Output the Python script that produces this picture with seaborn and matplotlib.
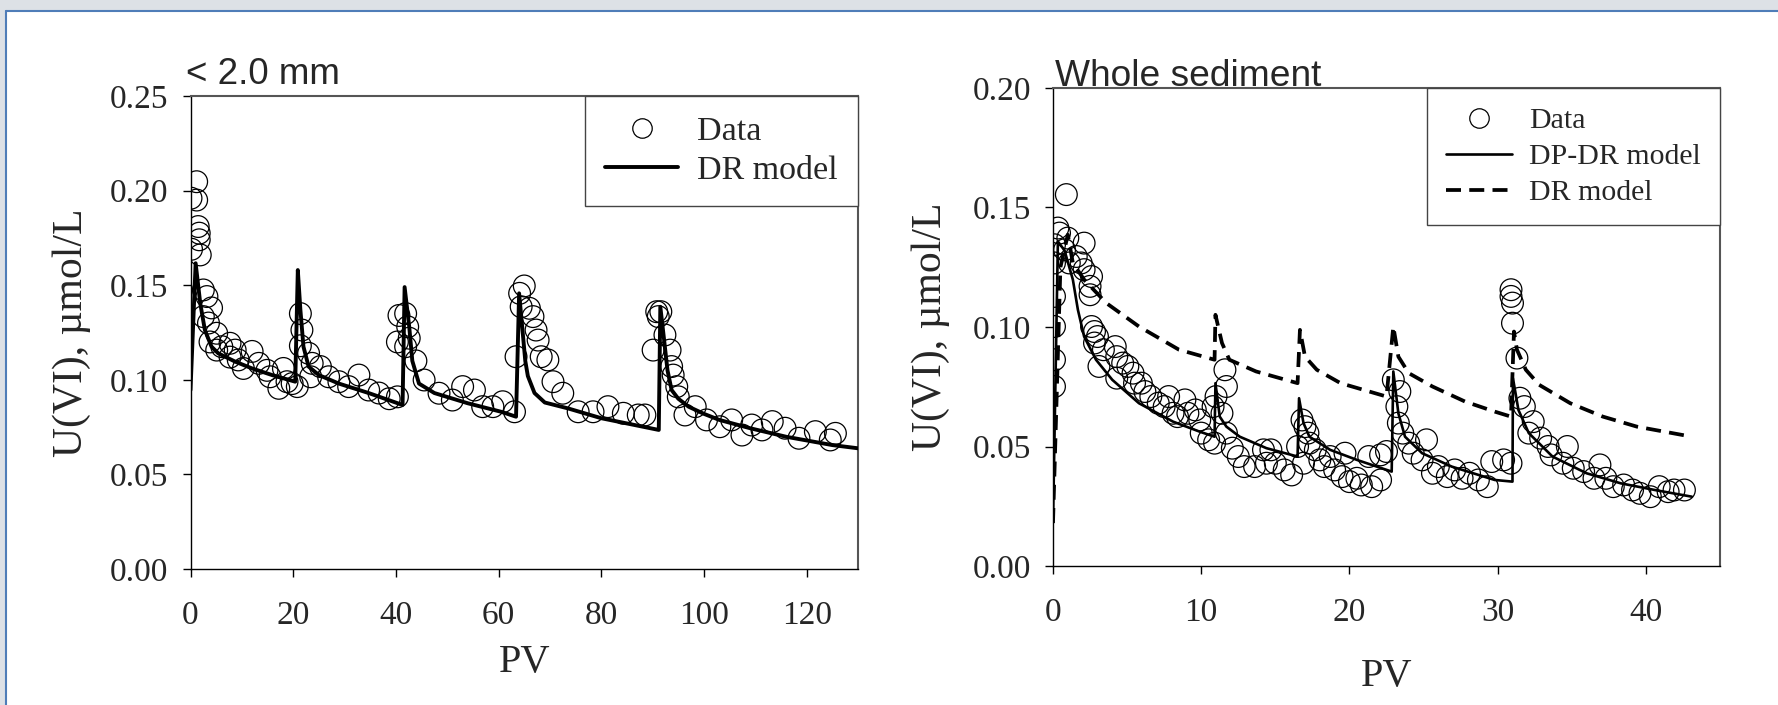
import numpy as np
import pandas as pd
import seaborn as sns
import matplotlib
matplotlib.use("Agg")
import matplotlib.pyplot as plt
from matplotlib.lines import Line2D
from matplotlib.patches import Rectangle
from matplotlib.ticker import FormatStrFormatter, MultipleLocator

# ---------------- data: left panel (< 2.0 mm) ----------------
left_data_pv = [0.1, 1.2, 1.2, 0.2, 1.5, 1.7, 1.7, 1.9, 2.5, 3.2, 4.1, 2.5, 3.5, 5.1, 3.8, 5.1,
                6.1, 7.7, 8.7, 7.7, 9.3, 12.0, 10.3, 13.3, 14.9, 15.5, 17.2, 18.1, 18.8, 19.8,
                20.8, 21.4, 21.7, 21.4, 23.0, 23.7, 23.4, 25.3, 26.9, 28.9, 30.8, 32.8, 34.7,
                36.7, 38.7, 40.3, 40.6, 40.3, 41.9, 42.3, 42.6, 41.9, 43.9, 45.5, 48.4, 51.0,
                53.0, 55.3, 56.9, 58.9, 60.8, 63.1, 63.4, 64.1, 64.4, 65.0, 66.0, 66.7, 67.3,
                67.7, 68.3, 69.6, 70.6, 72.5, 75.5, 78.4, 81.3, 84.3, 87.2, 88.5, 90.1, 90.8,
                91.6, 91.1, 92.4, 93.4, 93.7, 94.0, 94.7, 95.0, 96.3, 98.3, 100.5, 103.1,
                105.4, 107.4, 109.3, 111.3, 113.3, 115.8, 118.5, 121.7, 124.6, 125.6]
left_data_u = [0.196, 0.2047, 0.195, 0.169, 0.181, 0.1775, 0.174, 0.166, 0.1475, 0.144, 0.138,
               0.1334, 0.130, 0.1246, 0.120, 0.1157, 0.1175, 0.1193, 0.1157, 0.112, 0.1105,
               0.115, 0.106, 0.1087, 0.105, 0.1016, 0.0955, 0.106, 0.099, 0.098, 0.0964, 0.135,
               0.1263, 0.118, 0.114, 0.1087, 0.1016, 0.107, 0.1016, 0.099, 0.0964, 0.1025,
               0.0946, 0.093, 0.090, 0.091, 0.134, 0.120, 0.135, 0.128, 0.122, 0.1175, 0.110,
               0.0999, 0.0929, 0.0893, 0.0964, 0.0946, 0.0858, 0.0858, 0.0884, 0.0831, 0.1122,
               0.1457, 0.1386, 0.1496, 0.1378, 0.1334, 0.1263, 0.121, 0.1122, 0.1105, 0.099,
               0.0929, 0.0831, 0.0831, 0.0858, 0.0823, 0.0814, 0.0814, 0.1157, 0.136, 0.136,
               0.1334, 0.1237, 0.1157, 0.107, 0.1025, 0.0964, 0.091, 0.0814, 0.0858, 0.0788,
               0.0752, 0.0788, 0.0708, 0.0761, 0.0735, 0.0779, 0.0744, 0.0691, 0.0726, 0.0682,
               0.0717]

left_dr_pv = [0, 1.0, 1.9, 2.8, 4.1, 5.4, 8.7, 12, 15.9, 20.4, 20.9, 21.4, 22.0, 23.0, 25.0,
              28.9, 34.7, 41.3, 41.7, 42.6, 43.2, 44.5, 47.5, 54, 60.5, 63.4, 64.0, 64.6, 65.2,
              65.7, 67.0, 69.0, 73.5, 80, 86.5, 91.2, 91.5, 92.2, 92.9, 93.7, 95, 97, 100, 103,
              109, 116, 125, 130]
left_dr_u = [0.0946, 0.1616, 0.1404, 0.1263, 0.1175, 0.114, 0.1096, 0.106, 0.1025, 0.099,
             0.158, 0.137, 0.1175, 0.107, 0.1025, 0.098, 0.093, 0.0867, 0.149, 0.128, 0.110,
             0.098, 0.093, 0.0876, 0.0831, 0.0805, 0.1457, 0.128, 0.110, 0.102, 0.093, 0.088,
             0.0849, 0.0797, 0.0761, 0.0735, 0.1386, 0.122, 0.105, 0.0946, 0.090, 0.0858,
             0.082, 0.0788, 0.0744, 0.0699, 0.0655, 0.0638]

# ---------------- data: right panel (whole sediment) ----------------
right_data_pv = [0.9, 0.33, 0.44, 0.1, 0.1, 0.1, 0.1, 0.1, 0.1, 1.0, 2.1, 0.78, 1.1, 1.57, 1.9,
                 2.1, 2.6, 2.5, 2.5, 2.6, 2.8, 3.0, 2.8, 3.4, 3.1, 4.2, 4.3, 4.3, 4.7, 5.05, 5.4,
                 5.5, 5.96, 6.2, 6.6, 7.1, 7.5, 7.8, 8.1, 8.4, 8.9, 9.1, 9.6, 9.9, 10.0, 10.5,
                 10.9, 10.8, 11.0, 11.6, 11.7, 11.4, 11.7, 12.1, 12.5, 12.9, 13.6, 14.2, 14.4,
                 14.7, 15.0, 15.6, 16.1, 16.5, 16.8, 17.0, 17.2, 16.9, 17.3, 17.7, 18.0, 18.3,
                 18.7, 19.0, 19.5, 19.7, 20.0, 20.5, 20.8, 21.3, 21.5, 22.1, 22.1, 22.5, 22.96,
                 23.4, 23.2, 23.3, 23.6, 24.0, 24.3, 25.2, 24.9, 25.6, 26.0, 26.6, 27.1, 27.6,
                 28.1, 28.7, 29.3, 29.6, 30.4, 30.9, 30.9, 30.9, 31.0, 31.0, 31.3, 31.5, 31.8,
                 32.4, 32.1, 32.9, 33.4, 33.6, 34.7, 34.4, 35.1, 35.8, 36.9, 36.5, 37.3, 37.8,
                 38.5, 39.1, 39.6, 40.3, 40.9, 41.5, 41.9, 42.6]
right_data_u = [0.1554, 0.1414, 0.1393, 0.1344, 0.1268, 0.1128, 0.1002, 0.0863, 0.0751, 0.1372,
                0.1351, 0.1323, 0.1268, 0.1295, 0.1268, 0.124, 0.1211, 0.117, 0.1135, 0.1002,
                0.0981, 0.096, 0.0933, 0.0905, 0.0835, 0.0918, 0.0876, 0.0786, 0.0849, 0.0835,
                0.0807, 0.0765, 0.0765, 0.073, 0.0709, 0.0681, 0.0667, 0.0709, 0.0639, 0.0625,
                0.0695, 0.0639, 0.0653, 0.0611, 0.0556, 0.0528, 0.0514, 0.0667, 0.0709, 0.0821,
                0.0751, 0.0639, 0.0556, 0.0493, 0.0458, 0.0416, 0.0416, 0.0486, 0.043, 0.0486,
                0.043, 0.0402, 0.0381, 0.05, 0.0611, 0.0583, 0.0556, 0.043, 0.0514, 0.0486,
                0.0444, 0.0416, 0.0458, 0.0402, 0.0374, 0.0472, 0.0353, 0.0367, 0.0339, 0.0458,
                0.0332, 0.036, 0.0465, 0.0479, 0.0779, 0.073, 0.0667, 0.0598, 0.0556, 0.0514,
                0.0472, 0.0528, 0.0444, 0.0388, 0.0416, 0.0374, 0.0402, 0.0367, 0.0388, 0.036,
                0.0332, 0.0437, 0.0444, 0.043, 0.1156, 0.1128, 0.110, 0.1016, 0.087, 0.0702,
                0.0667, 0.0604, 0.0556, 0.0535, 0.05, 0.0465, 0.05, 0.043, 0.0409, 0.0395,
                0.0423, 0.0367, 0.0367, 0.0332, 0.0339, 0.0318, 0.0304, 0.029, 0.0332, 0.0311,
                0.0318, 0.0318]

dpdr_pv = [0.0, 0.33, 0.78, 1.34, 1.68, 2.1, 2.9, 4.0, 5.8, 8.1, 9.9, 10.9, 10.96, 11.25, 11.7,
           12.6, 14.4, 16.5, 16.6, 16.9, 17.3, 18.7, 20.5, 22.85, 22.96, 23.3, 23.75, 24.9,
           26.9, 29.8, 31.0, 31.03, 31.4, 32.1, 33.7, 36.0, 38.3, 40.6, 43.1]
dpdr_u = [0.018, 0.1358, 0.132, 0.1198, 0.1072, 0.096, 0.0863, 0.0779, 0.0681, 0.0604, 0.0562,
          0.0541, 0.0765, 0.0625, 0.0583, 0.0541, 0.0493, 0.0458, 0.0702, 0.0598, 0.0541,
          0.0486, 0.0444, 0.0395, 0.0814, 0.0639, 0.0541, 0.0472, 0.0416, 0.036, 0.0353,
          0.0786, 0.0653, 0.0556, 0.0458, 0.0388, 0.0346, 0.0318, 0.029]

dr_pv = [0.0, 0.5, 1.0, 1.34, 2.1, 3.6, 5.8, 8.5, 10.9, 10.96, 11.4, 11.9, 13.7, 16.5, 16.66,
         17.0, 17.8, 19.4, 22.5, 22.96, 23.3, 24.0, 25.6, 27.8, 29.8, 30.9, 31.1, 31.3, 31.9,
         32.8, 34.9, 37.1, 39.4, 43.1]
dr_u = [0.018, 0.125, 0.1386, 0.1268, 0.1198, 0.110, 0.1002, 0.0905, 0.0863, 0.1051, 0.0933,
        0.0863, 0.0814, 0.0765, 0.0988, 0.0876, 0.0821, 0.0765, 0.0709, 0.1002, 0.0876,
        0.0807, 0.0751, 0.0688, 0.0646, 0.0625, 0.0981, 0.0905, 0.0821, 0.0758, 0.0681,
        0.0625, 0.0583, 0.0541]

left_title = "< 2.0 mm"
right_title = "Whole sediment"
ylabel = "U(VI), µmol/L"
xlabel = "PV"

# ---------------- style ----------------
sns.set_style("ticks")
plt.rcParams['font.family'] = ['Liberation Serif', 'DejaVu Serif']

W, H = 1778, 705
fig = plt.figure(figsize=(W / 100, H / 100), dpi=100)
fig.patch.set_facecolor('white')

# slide-like frame
fig.patches.append(Rectangle((0, 1 - 10 / H), 1, 10 / H, transform=fig.transFigure,
                             facecolor='#dde1e6', edgecolor='none', zorder=0))
fig.patches.append(Rectangle((0, 0), 5 / W, 1, transform=fig.transFigure,
                             facecolor='#dde1e6', edgecolor='none', zorder=0))
fig.lines.append(Line2D([5.5 / W, 1], [1 - 10.5 / H, 1 - 10.5 / H], transform=fig.transFigure,
                        color='#4f7db8', lw=1.5))
fig.lines.append(Line2D([5.5 / W, 5.5 / W], [0, 1 - 10.5 / H], transform=fig.transFigure,
                        color='#4f7db8', lw=1.5))

axL = fig.add_axes([190.5 / W, 1 - 569 / H, (858 - 190.5) / W, (569 - 96) / H])
axR = fig.add_axes([1053 / W, 1 - 566 / H, (1720 - 1053) / W, (566 - 88) / H])

sc_kw = dict(s=245, marker='o', facecolor='none', edgecolor='black', linewidth=0.9, zorder=2)

# left panel
sns.scatterplot(x=left_data_pv, y=left_data_u, ax=axL, **sc_kw)
sns.lineplot(x=left_dr_pv, y=left_dr_u, ax=axL, sort=False, estimator=None,
             color='black', lw=2.8, zorder=3)

# right panel
sns.scatterplot(x=right_data_pv, y=right_data_u, ax=axR, **sc_kw)
sns.lineplot(x=dpdr_pv, y=dpdr_u, ax=axR, sort=False, estimator=None,
             color='black', lw=1.9, zorder=3)
sns.lineplot(x=dr_pv, y=dr_u, ax=axR, sort=False, estimator=None,
             color='black', lw=2.7, zorder=3, linestyle=(0, (4, 2.2)))

axL.set_xlim(0, 130)
axL.set_ylim(0, 0.25)
axL.xaxis.set_major_locator(MultipleLocator(20))
axL.yaxis.set_major_locator(MultipleLocator(0.05))
axR.set_xlim(0, 45)
axR.set_ylim(0, 0.20)
axR.xaxis.set_major_locator(MultipleLocator(10))
axR.yaxis.set_major_locator(MultipleLocator(0.05))

for ax in (axL, axR):
    ax.yaxis.set_major_formatter(FormatStrFormatter('%.2f'))
    ax.set_facecolor('white')
    ax.grid(False)
    for s in ('left', 'bottom'):
        ax.spines[s].set_color('black')
        ax.spines[s].set_linewidth(1.0)
    for s in ('top', 'right'):
        ax.spines[s].set_visible(True)
        ax.spines[s].set_color('#555555')
        ax.spines[s].set_linewidth(1.5)
    ax.tick_params(axis='both', direction='out', length=6, width=1, color='black',
                   labelsize=24, top=False, right=False)
    ax.tick_params(axis='x', pad=17)
    ax.tick_params(axis='y', pad=10)
    ax.set_xlabel(xlabel, fontsize=29)
    ax.set_ylabel(ylabel, fontsize=30)
    ax.xaxis.label.set_va('center')
    ax.yaxis.label.set_va('center')

axL.xaxis.set_label_coords(0.5, -0.197)
axR.xaxis.set_label_coords(0.5, -0.232)
axL.yaxis.set_label_coords(-0.178, 0.5)
axR.yaxis.set_label_coords(-0.184, 0.5)

axL.text(-0.006, 1.0254, left_title, transform=axL.transAxes, ha='left', va='baseline',
         fontsize=26.5, family=['Liberation Sans', 'DejaVu Sans'])
axR.text(0.0025, 1.004, right_title, transform=axR.transAxes, ha='left', va='baseline',
         fontsize=26.7, family=['Liberation Sans', 'DejaVu Sans'])

# legends
hL = [Line2D([], [], marker='o', ls='none', markerfacecolor='none', markeredgecolor='black',
             markersize=14, markeredgewidth=0.9, label='Data'),
      Line2D([], [], color='black', lw=2.8, label='DR model')]
legL = axL.legend(handles=hL, loc='upper right', bbox_to_anchor=(1, 1), borderaxespad=0,
                  fontsize=24.5, frameon=True, fancybox=False, shadow=False,
                  handlelength=2.15, handletextpad=0.55, borderpad=0.6, labelspacing=0.22)
legL.get_frame().set_edgecolor('#444444')
legL.get_frame().set_linewidth(1.0)
legL.get_frame().set_alpha(1)

hR = [Line2D([], [], marker='o', ls='none', markerfacecolor='none', markeredgecolor='black',
             markersize=14, markeredgewidth=0.9, label='Data'),
      Line2D([], [], color='black', lw=1.9, label='DP-DR model'),
      Line2D([], [], color='black', lw=2.7, ls=(0, (4, 2.2)), label='DR model')]
legR = axR.legend(handles=hR, loc='upper right', bbox_to_anchor=(1, 1), borderaxespad=0,
                  fontsize=21.5, frameon=True, fancybox=False, shadow=False,
                  handlelength=2.2, handletextpad=0.57, borderpad=0.65, labelspacing=0.3)
legR.get_frame().set_edgecolor('#444444')
legR.get_frame().set_linewidth(1.0)
legR.get_frame().set_alpha(1)

fig.savefig('out.png', dpi=100, facecolor='white')
